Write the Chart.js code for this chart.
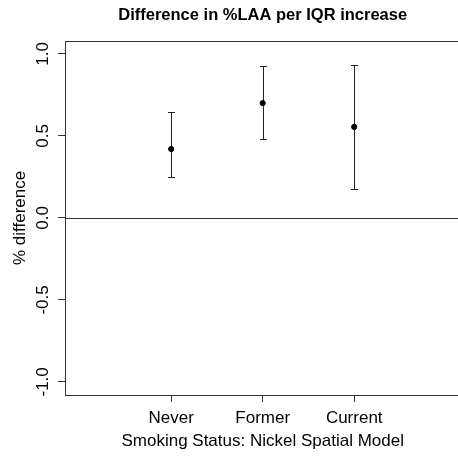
<!DOCTYPE html>
<html>
<head>
<meta charset="utf-8">
<script src="https://cdn.jsdelivr.net/npm/chart.js@4"></script>
<style>
  html, body { margin: 0; padding: 0; background: #fff; overflow: hidden; }
  #wrap { width: 458px; height: 457px; overflow: hidden; }
</style>
</head>
<body>
<div id="wrap"><canvas id="myChart" width="464" height="457"></canvas></div>
<script>
var categories = ['Never', 'Former', 'Current'];
var xPos = [1, 2, 3];
var estimate = [0.42, 0.70, 0.555];
var lower = [0.247, 0.48, 0.179];
var upper = [0.647, 0.924, 0.932];
var yTicks = [-1, -0.5, 0, 0.5, 1];
var yTickLabels = ['-1.0', '-0.5', '0.0', '0.5', '1.0'];

var LINE = '#333';
var FONT = 'Liberation Sans, Arial, Helvetica, sans-serif';

// box, zero line, error bars and rotated y labels (R style)
var rPlot = {
    id: 'rPlot',
    beforeDatasetsDraw: function (chart) {
        var c = chart.ctx, a = chart.chartArea, y = chart.scales.y, x = chart.scales.x;
        c.save();
        c.strokeStyle = LINE;
        c.lineWidth = 1;
        c.strokeRect(Math.round(a.left) + 0.5, Math.round(a.top) + 0.5,
            Math.round(a.right - a.left), Math.round(a.bottom - a.top));
        var y0 = Math.round(y.getPixelForValue(0)) + 0.5;
        c.beginPath();
        c.moveTo(a.left, y0);
        c.lineTo(a.right, y0);
        c.stroke();

        // error bars
        c.strokeStyle = '#222';
        for (var i = 0; i < xPos.length; i++) {
            var px = Math.round(x.getPixelForValue(xPos[i])) + 0.5;
            var lo = Math.round(y.getPixelForValue(lower[i])) + 0.5;
            var hi = Math.round(y.getPixelForValue(upper[i])) + 0.5;
            c.beginPath();
            c.moveTo(px, lo); c.lineTo(px, hi);
            c.moveTo(px - 3.5, lo); c.lineTo(px + 3.5, lo);
            c.moveTo(px - 3.5, hi); c.lineTo(px + 3.5, hi);
            c.stroke();
        }

        // y tick labels, rotated like R's las=0
        c.fillStyle = '#000';
        c.font = '17px ' + FONT;
        c.textAlign = 'center';
        c.textBaseline = 'alphabetic';
        for (var j = 0; j < yTicks.length; j++) {
            var py = y.getPixelForValue(yTicks[j]);
            c.save();
            c.translate(48, py);
            c.rotate(-Math.PI / 2);
            c.fillText(yTickLabels[j], 0, 0);
            c.restore();
        }
        c.restore();
    }
};

var ctx = document.getElementById('myChart').getContext('2d');
var myChart = new Chart(ctx, {
    type: 'scatter',
    data: {
        datasets: [{
            data: xPos.map(function (v, i) { return { x: v, y: estimate[i] }; }),
            backgroundColor: '#000',
            borderColor: '#000',
            pointRadius: 2.6,
            pointHoverRadius: 2.6
        }]
    },
    options: {
        responsive: false,
        animation: false,
        layout: { padding: { left: 0, right: 3, top: 0, bottom: 0 } },
        scales: {
            x: {
                type: 'linear',
                min: -0.16,
                max: 4.16,
                afterBuildTicks: function (s) { s.ticks = xPos.map(function (v) { return { value: v }; }); },
                afterFit: function (s) { s.height = 62; },
                ticks: {
                    color: '#000',
                    font: { family: FONT, size: 17 },
                    padding: 6,
                    maxRotation: 0,
                    callback: function (v) { return categories[xPos.indexOf(v)]; }
                },
                grid: { drawOnChartArea: false, drawTicks: true, tickLength: 7, color: LINE },
                border: { display: false },
                title: {
                    display: true,
                    text: 'Smoking Status: Nickel Spatial Model',
                    color: '#000',
                    font: { family: FONT, size: 17 },
                    padding: { top: 5, bottom: 5 }
                }
            },
            y: {
                min: -1.08,
                max: 1.08,
                afterBuildTicks: function (s) { s.ticks = yTicks.map(function (v) { return { value: v }; }); },
                afterFit: function (s) { s.width = 65; },
                ticks: { display: false },
                grid: { drawOnChartArea: false, drawTicks: true, tickLength: 7, color: LINE },
                border: { display: false },
                title: {
                    display: true,
                    text: '% difference',
                    color: '#000',
                    font: { family: FONT, size: 17 },
                    padding: { top: 10, bottom: 10 }
                }
            }
        },
        plugins: {
            legend: { display: false },
            tooltip: { enabled: false },
            title: {
                display: true,
                fullSize: false,
                text: 'Difference in %LAA per IQR increase',
                color: '#000',
                font: { family: FONT, size: 16.5, weight: 'bold' },
                padding: { top: 6, bottom: 15 }
            }
        }
    },
    plugins: [rPlot]
});
</script>
</body>
</html>
